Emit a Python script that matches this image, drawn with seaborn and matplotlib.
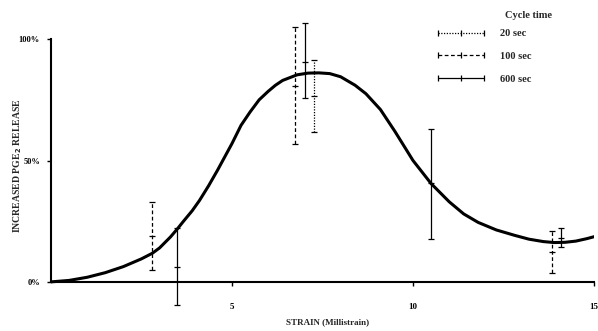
import matplotlib
matplotlib.use("Agg")
import matplotlib.pyplot as plt
from matplotlib.lines import Line2D
import seaborn as sns

# fitted curve
curve_x = [0, 0.5, 1.0, 1.5, 2.0, 2.5, 2.8, 3.0, 3.3, 3.5, 3.65, 3.9, 4.1, 4.35, 4.6,
           5.0, 5.25, 5.5, 5.75, 6.0, 6.2, 6.4, 6.8, 7.1, 7.4, 7.7, 8.0, 8.4, 8.7,
           9.1, 9.5, 10.0, 10.5, 11.0, 11.4, 11.8, 12.3, 12.8, 13.2, 13.6, 13.9,
           14.2, 14.5, 14.8, 15.0]
curve_y = [0, 0.6, 1.9, 3.8, 6.3, 9.5, 11.8, 14.0, 18.5, 22, 24.8, 29.3, 33.5, 39.5, 46,
           57, 64.5, 70, 75, 78.5, 81, 83, 85.3, 86, 86.1, 85.8, 84.5, 81, 77.5,
           71, 62, 50, 40.5, 33, 28, 24.5, 21.4, 19.2, 17.6, 16.6, 16.2,
           16.3, 16.8, 17.8, 18.6]

# cycle time 20 sec
s20_x = [7.27]
s20_mean = [76.4]
s20_lo = [61.6]
s20_hi = [91.4]

# cycle time 100 sec
s100_x = [2.80, 6.74, 13.83]
s100_mean = [18.9, 80.8, 12.5]
s100_lo = [4.7, 56.8, 3.6]
s100_hi = [33.0, 104.8, 21.1]

# cycle time 600 sec
s600_x = [3.49, 7.03, 10.49, 14.10]
s600_mean = [6.0, 90.4, 40.6, 18.2]
s600_lo = [-9.5, 75.8, 17.6, 14.5]
s600_hi = [22.0, 106.5, 62.8, 22.1]

x_ticks = [5, 10, 15]
y_ticks = [0, 50, 100]
y_ticklabels = ["0%", "50%", "100%"]

sns.set_style("white")
plt.rcParams["font.family"] = ["Liberation Serif", "DejaVu Serif"]
plt.rcParams["font.weight"] = "bold"

fig = plt.figure(figsize=(5.98, 3.31), dpi=100)
ax = fig.add_axes([0.0853, 0.0604, 0.908, 0.9094])

sns.lineplot(x=curve_x, y=curve_y, color="black", lw=2.2, ax=ax, sort=False)


def draw_bars(xs, mean, lo, hi, ls):
    err = [[m - l for m, l in zip(mean, lo)], [h - m for m, h in zip(mean, hi)]]
    eb = ax.errorbar(xs, mean, yerr=err, fmt="_", color="black", ms=4, mew=0.9,
                     elinewidth=0.9, capsize=2, capthick=0.9)
    for lc in eb[2]:
        lc.set_linestyle(ls)


draw_bars(s20_x, s20_mean, s20_lo, s20_hi, (0, (1, 1.2)))
draw_bars(s100_x, s100_mean, s100_lo, s100_hi, (0, (3, 2)))
draw_bars(s600_x, s600_mean, s600_lo, s600_hi, "-")

ax.set_xlim(0, 15)
ax.set_ylim(-12, 112)
for s in ["top", "right"]:
    ax.spines[s].set_visible(False)
ax.spines["bottom"].set_position(("data", 0))
ax.spines["left"].set_bounds(0, 100)
for s in ["bottom", "left"]:
    ax.spines[s].set_linewidth(1.5)
    ax.spines[s].set_color("black")

ax.set_xticks(x_ticks)
ax.set_xticklabels([str(t) for t in x_ticks], fontsize=6.5, fontweight="bold")
ax.set_yticks(y_ticks)
ax.set_yticklabels(y_ticklabels, fontsize=6, fontweight="bold")
ax.tick_params(axis="x", direction="out", length=3, width=1, pad=12, colors="black")
ax.tick_params(axis="y", direction="out", length=3, width=1, pad=5, colors="black")
ax.tick_params(left=True, bottom=True)

ax.set_xlabel("STRAIN (Millistrain)", fontsize=6.5, fontweight="bold")
ax.xaxis.set_label_coords(0.51, -0.025)
ax.set_ylabel("INCREASED PGE$_2$ RELEASE", fontsize=7, fontweight="bold")
ax.yaxis.set_label_coords(-0.05, 0.484)

handles = [
    Line2D([], [], color="black", lw=0.9, ls=(0, (1, 1.2)), marker="|", ms=4, mew=0.9),
    Line2D([], [], color="black", lw=0.9, ls=(0, (3, 2)), marker="|", ms=4, mew=0.9),
    Line2D([], [], color="black", lw=0.9, ls="-", marker="|", ms=4, mew=0.9),
]
leg = ax.legend(handles, ["20 sec", "100 sec", "600 sec"],
                loc="upper left", bbox_to_anchor=(0.7274, 0.912),
                bbox_transform=fig.transFigure, frameon=False,
                fontsize=7.5, numpoints=3, handlelength=5.0, borderpad=0,
                borderaxespad=0, labelspacing=1.28, handletextpad=1.25)
fig.text(0.8445, 0.952, "Cycle time", fontsize=7.5, fontweight="bold", va="center")

fig.savefig("out.png", dpi=100)
